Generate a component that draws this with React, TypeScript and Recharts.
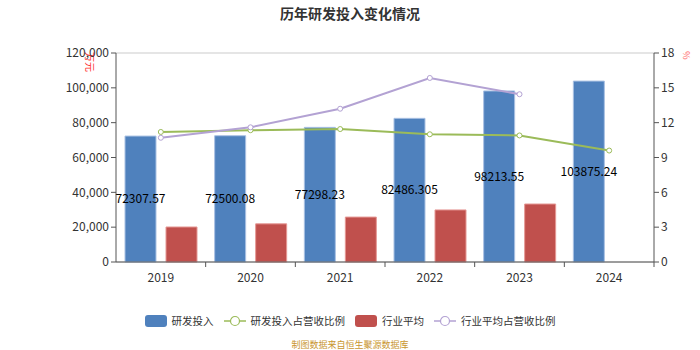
import {
  Bar,
  CartesianGrid,
  ComposedChart,
  LabelList,
  Line,
  XAxis,
  YAxis,
} from "recharts";

const YEARS = ["2019", "2020", "2021", "2022", "2023", "2024"];
const RD_SPEND = [72307.57, 72500.08, 77298.23, 82486.305, 98213.55, 103875.24];
const RD_RATIO = [11.2, 11.35, 11.45, 11.0, 10.9, 9.6];
const INDUSTRY_AVG = [20100, 21900, 25800, 29900, 33300, null];
const INDUSTRY_RATIO = [10.7, 11.6, 13.2, 15.85, 14.45, null];

const LEFT_TICKS = [0, 20000, 40000, 60000, 80000, 100000, 120000];
const RIGHT_TICKS = [0, 3, 6, 9, 12, 15, 18];

const FONT = '"Noto Sans CJK SC", "Noto Sans", sans-serif';
const BLUE = "#4f81bd";
const RED = "#c0504d";
const GREEN = "#9bbb59";
const PURPLE = "#b3a2d3";

const data = YEARS.map((year, i) => ({
  year,
  rd: RD_SPEND[i],
  rdRatio: RD_RATIO[i],
  avg: INDUSTRY_AVG[i],
  avgRatio: INDUSTRY_RATIO[i],
}));

const fmt = (v: number) => v.toLocaleString("en-US");

const BAND = (654 - 116) / YEARS.length;

function YearTick({ x, y, payload }: { x?: number; y?: number; payload?: { value: string } }) {
  const cx = Number(x ?? 0);
  const cy = Number(y ?? 0);
  return (
    <g>
      <line x1={cx + BAND / 2} x2={cx + BAND / 2} y1={cy - 8} y2={cy - 3} stroke="#555" />
      <text x={cx} y={cy + 12} textAnchor="middle" fill="#333" fontSize={12} fontFamily={FONT}>
        {payload?.value}
      </text>
    </g>
  );
}

function ChartLegend() {
  const item = { display: "flex", alignItems: "center", gap: 5 } as const;
  const swatch = (c: string) => (
    <span style={{ display: "inline-block", width: 22, height: 12, borderRadius: 3, background: c }} />
  );
  const lineIcon = (c: string) => (
    <svg width={22} height={12}>
      <line x1={0} x2={22} y1={6} y2={6} stroke={c} strokeWidth={1.5} />
      <circle cx={11} cy={6} r={4.5} fill="#fff" stroke={c} strokeWidth={1.2} />
    </svg>
  );
  return (
    <div
      style={{
        position: "absolute",
        top: 313,
        left: 0,
        width: 700,
        display: "flex",
        justifyContent: "center",
        gap: 10,
        fontSize: 10.5,
        color: "#333",
        fontFamily: FONT,
      }}
    >
      <span style={item}>{swatch(BLUE)}研发投入</span>
      <span style={item}>{lineIcon(GREEN)}研发投入占营收比例</span>
      <span style={item}>{swatch(RED)}行业平均</span>
      <span style={item}>{lineIcon(PURPLE)}行业平均占营收比例</span>
    </div>
  );
}

export default function App() {
  return (
    <div style={{ position: "absolute", left: 0, top: 0, width: 700, height: 350, fontFamily: FONT, background: "#fff" }}>
      <div
        style={{
          position: "absolute",
          top: 3,
          width: 700,
          textAlign: "center",
          fontSize: 14,
          fontWeight: "bold",
          color: "#333",
        }}
      >
        历年研发投入变化情况
      </div>
      <div
        style={{
          position: "absolute",
          left: 95,
          top: 52,
          fontSize: 10,
          lineHeight: "10px",
          color: "#f33",
          transform: "rotate(90deg)",
          transformOrigin: "left top",
          whiteSpace: "nowrap",
        }}
      >
        万元
      </div>
      <div style={{ position: "absolute", left: 682, top: 49, fontSize: 9, color: "#f66", transform: "rotate(90deg)" }}>
        %
      </div>
      <ComposedChart
        width={700}
        height={350}
        data={data}
        margin={{ top: 53, right: 6, left: 56, bottom: 58 }}
        barSize={31}
        barGap={10}
      >
        <CartesianGrid vertical={false} stroke="#ddd" strokeWidth={1.5} />
        <XAxis
          dataKey="year"
          stroke="#555"
          tickLine={false}
          tick={<YearTick />}
          height={30}
        />
        <YAxis
          yAxisId="left"
          width={60}
          domain={[0, 120000]}
          ticks={LEFT_TICKS}
          tickFormatter={fmt}
          stroke="#555"
          tick={{ fill: "#333", fontSize: 12, fontFamily: FONT }}
          tickSize={5}
        />
        <YAxis
          yAxisId="right"
          orientation="right"
          width={40}
          domain={[0, 18]}
          ticks={RIGHT_TICKS}
          stroke="#555"
          tick={{ fill: "#333", fontSize: 12, fontFamily: FONT }}
          tickSize={5}
        />
        <Bar yAxisId="left" dataKey="rd" fill={BLUE} stroke="#a9c1e3" isAnimationActive={false}>
          <LabelList dataKey="rd" position="center" fill="#000" fontSize={12} fontFamily={FONT} />
        </Bar>
        <Bar yAxisId="left" dataKey="avg" fill={RED} stroke="#e59895" isAnimationActive={false} />
        <Line
          yAxisId="right"
          dataKey="rdRatio"
          stroke={GREEN}
          strokeWidth={2}
          dot={{ r: 2.5, fill: "#fff", stroke: GREEN, strokeWidth: 1 }}
          isAnimationActive={false}
        />
        <Line
          yAxisId="right"
          dataKey="avgRatio"
          stroke={PURPLE}
          strokeWidth={2}
          dot={{ r: 2.5, fill: "#fff", stroke: PURPLE, strokeWidth: 1 }}
          isAnimationActive={false}
        />
      </ComposedChart>
      <ChartLegend />
      <div
        style={{
          position: "absolute",
          top: 338,
          width: 700,
          textAlign: "center",
          fontSize: 9,
          color: "#c9962f",
        }}
      >
        制图数据来自恒生聚源数据库
      </div>
    </div>
  );
}
